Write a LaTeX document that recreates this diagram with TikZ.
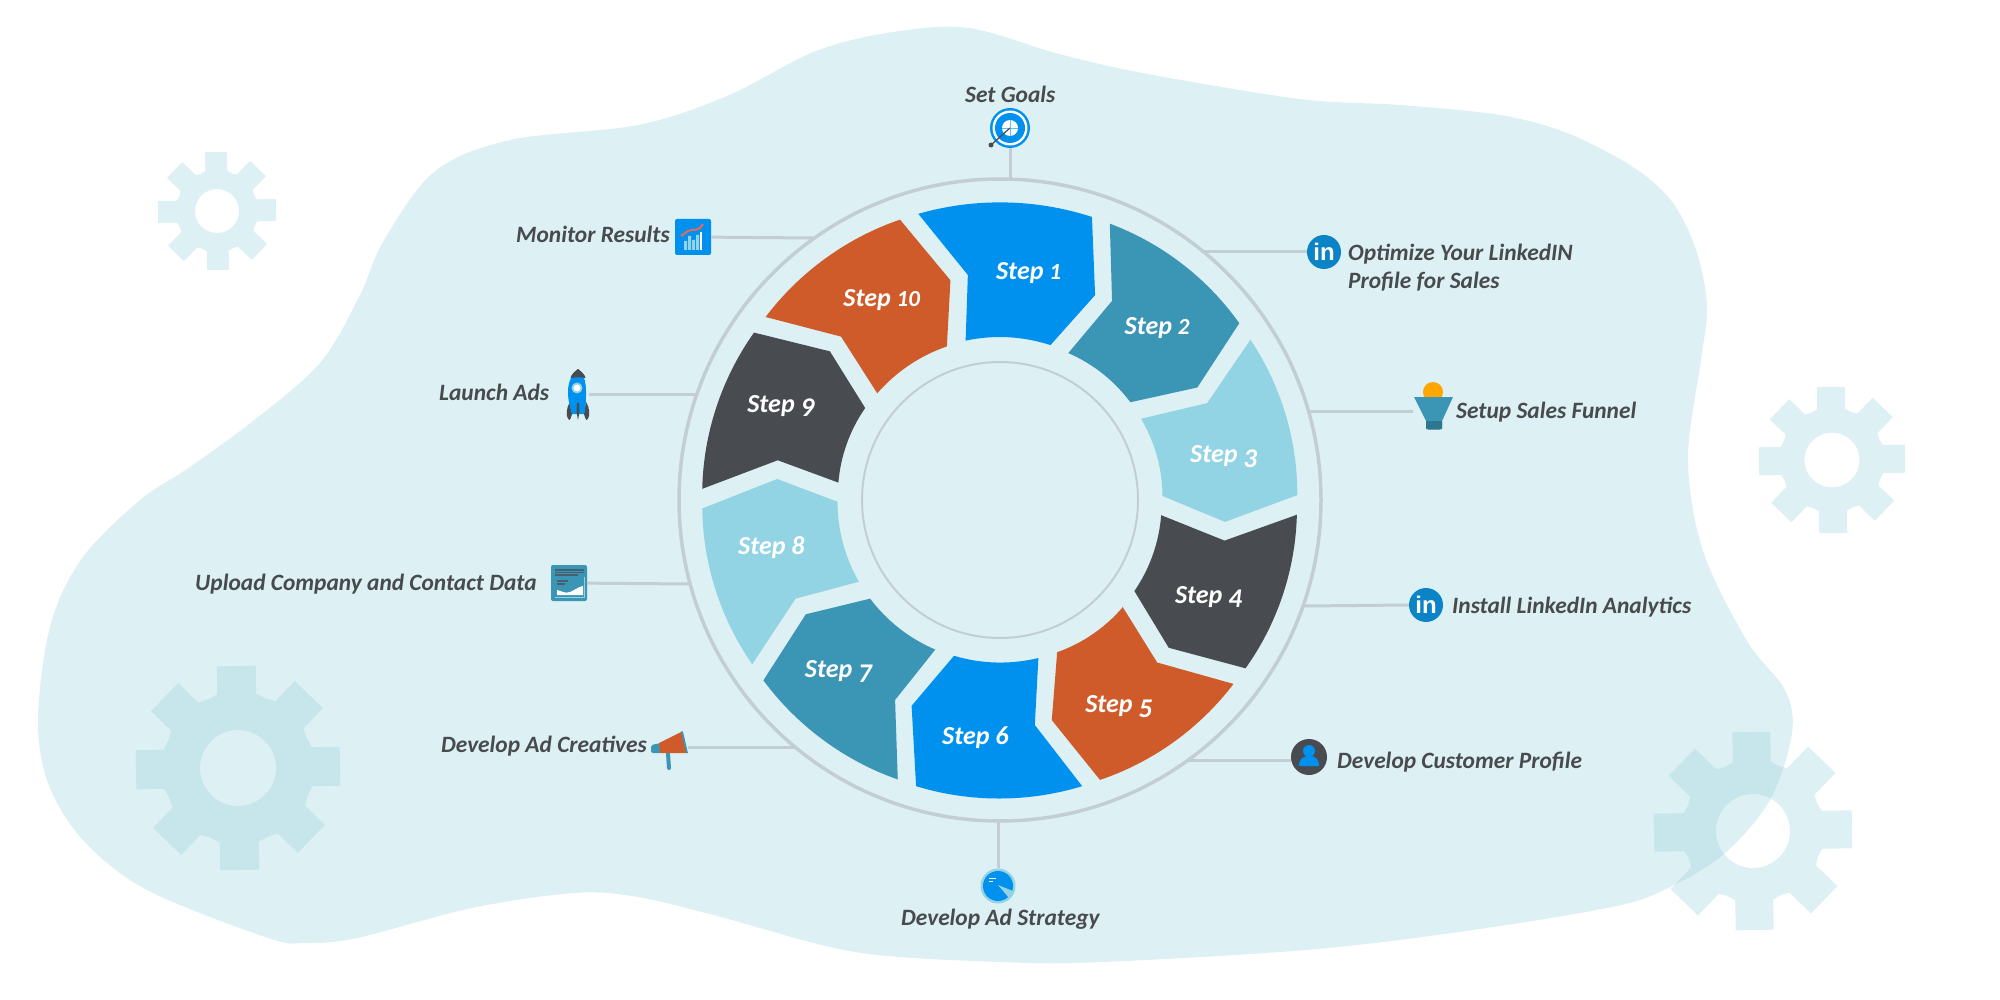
\documentclass[tikz,border=0pt]{standalone}
\usepackage{fontspec}
\setmainfont{Carlito}
\newfontfamily\iconfont{Liberation Sans}
\definecolor{blobc}{RGB}{221,240,244}
\definecolor{gearc}{RGB}{159,212,224}
\definecolor{ringc}{RGB}{195,206,212}
\definecolor{sblue}{RGB}{0,145,238}
\definecolor{steal}{RGB}{59,149,180}
\definecolor{slight}{RGB}{146,211,228}
\definecolor{sdark}{RGB}{72,76,80}
\definecolor{sorange}{RGB}{208,91,42}
\definecolor{txtc}{RGB}{72,75,78}
\definecolor{linkc}{RGB}{10,132,198}
\definecolor{chartred}{RGB}{232,104,90}
\tikzset{
 x=1pt,y=-1pt,
 oarc/.style={bend left=17,looseness=.87},
 iarc/.style={bend right=15,looseness=.87},
 conn/.style={draw=ringc,line width=3pt},
 lbl/.style={text=txtc,inner sep=0pt,font=\fontsize{23.4}{28}\selectfont\bfseries\itshape},
 steplbl/.style={text=white,inner sep=0pt,font=\fontsize{26}{30}\selectfont\bfseries\itshape},
 linkicon/.style={circle,fill=linkc,minimum size=34pt,inner sep=0pt,text=white,font=\fontsize{24}{24}\selectfont\iconfont\bfseries},
}
% old-style figures: x-height, descending and ascending digits
\newcommand\lowfig[1]{{\fontsize{23}{26}\selectfont #1}}
\newcommand\descfig[1]{\raisebox{-4.5pt}{\fontsize{27}{30}\selectfont #1}}
% #1 cx #2 cy #3 R #4 root #5 half tooth #6 hole #7 rotation
\newcommand\gearshape[7]{%
 \fill[gearc,fill opacity=.353,even odd rule]
  ({#1+#4*cos(#7)+#5*sin(#7)},{#2+#4*sin(#7)-#5*cos(#7)})
  \foreach \a in {0,45,...,315}{
   -- ({#1+#4*cos(\a+#7)+#5*sin(\a+#7)},{#2+#4*sin(\a+#7)-#5*cos(\a+#7)})
   -- ({#1+#3*cos(\a+#7)+#5*sin(\a+#7)},{#2+#3*sin(\a+#7)-#5*cos(\a+#7)})
   -- ({#1+#3*cos(\a+#7)-#5*sin(\a+#7)},{#2+#3*sin(\a+#7)+#5*cos(\a+#7)})
   -- ({#1+#4*cos(\a+#7)-#5*sin(\a+#7)},{#2+#4*sin(\a+#7)+#5*cos(\a+#7)})
   -- ({#1+#4*1.012*cos(\a+#7+22.5)},{#2+#4*1.012*sin(\a+#7+22.5)})
  } -- cycle
  (#1,#2) circle[radius=#6pt];}
\newcommand\stepshape[7]{\fill[#1] #2 to[oarc] #3 -- #4 -- #5 to[iarc] #6 -- #7 -- cycle;}
\begin{document}
\begin{tikzpicture}
\useasboundingbox (0,0) rectangle (2000,1000);
% background blob
\fill[blobc] plot[smooth cycle,tension=.55] coordinates {
 (38,717)(51,623)(83,557)(140,500)(187,469)(253,421)(320,363)(360,295)(383,242)(434,172)(510,140)(638,125)(727,96)(816,51)(893,32)(969,28)(1059,54)(1148,74)(1300,99)(1400,105)(1500,115)(1567,133)(1633,167)(1673,203)(1697,253)(1707,307)(1701,360)(1688,459)(1703,551)(1747,641)(1785,690)(1792,733)(1770,800)(1724,854)(1668,888)(1612,907)(1459,932)(1306,950)(1102,962)(1000,962)(855,952)(721,917)(638,897)(574,893)(472,908)(357,938)(306,943)(268,938)(147,890)(83,840)(48,783)};
% gears
\gearshape{1832}{460}{73}{51}{14}{27.5}{-1}
\gearshape{1753}{831}{99}{69}{19}{37}{-1}
\gearshape{217}{211}{59}{40}{11}{22}{-1}
\gearshape{238}{768}{102}{74}{19.5}{38}{-1}
% rings
\node[circle,draw=ringc,line width=3.5pt,minimum size=642pt,inner sep=0pt] (ring) at (1000,500) {};
\node[circle,draw=ringc,line width=2pt,minimum size=276pt,inner sep=0pt] (hub) at (1000,500) {};
% icon nodes
\node[circle,fill=sblue,minimum size=40pt,inner sep=0pt] (goal) at (1010,128) {};
\node[linkicon] (li1) at (1324,252) {in};
\node[inner sep=0pt,minimum width=39pt,minimum height=32pt] (fun) at (1433,413) {};
\node[linkicon] (li2) at (1426,605) {in};
\node[circle,fill=sdark,minimum size=36pt,inner sep=0pt] (cust) at (1309,757) {};
\node[circle,fill=slight,minimum size=35pt,inner sep=0pt] (strat) at (998,886) {};
\node[inner sep=0pt,minimum width=37pt,minimum height=39pt] (mega) at (669.5,750) {};
\node[rounded corners=2pt,fill=steal,minimum size=36pt,inner sep=0pt] (data) at (569,583) {};
\node[inner sep=0pt,minimum width=22pt,minimum height=51pt] (rock) at (578,394.5) {};
\node[rounded corners=2pt,fill=sblue,minimum size=36pt,inner sep=0pt] (chart) at (693,237) {};
% connector ends on the ring
\coordinate (e1) at (1010,179);
\coordinate (e2) at (1201,252);
\coordinate (e3) at (1307,411);
\coordinate (e4) at (1304,606);
\coordinate (e5) at (1188,760);
\coordinate (e6) at (998,821);
\coordinate (e7) at (795,747);
\coordinate (e8) at (690,584);
\coordinate (e9) at (697,394);
\coordinate (e10) at (813,238);
\draw[conn] (goal) -- (e1);
\draw[conn] (li1) -- (e2);
\draw[conn] (fun.west |- e3) -- (e3);
\draw[conn] (li2.west) -- (e4);
\draw[conn] (cust.west |- e5) -- (e5);
\draw[conn] (strat) -- (e6);
\draw[conn] (mega.east |- e7) -- (e7);
\draw[conn] (data) -- (e8);
\draw[conn] (rock.east |- e9) -- (e9);
\draw[conn] (chart) -- (e10);
% steps (coordinates taken from a zoomed view)
\begin{scope}[shift={(650,150)},scale=.44643]
\stepshape{sblue}{(601,143)}{(990,150)}{(997,325)}{(897,437)}{(707,427)}{(712,280)}
\stepshape{steal}{(1030,165)}{(1320,388)}{(1226,532)}{(1076,565)}{(937,455)}{(1035,338)}
\stepshape{slight}{(1345,425)}{(1450,773)}{(1288,833)}{(1148,775)}{(1100,602)}{(1248,567)}
\stepshape{sdark}{(1449,817)}{(1334,1161)}{(1162,1115)}{(1085,988)}{(1145,818)}{(1287,875)}
\stepshape{sorange}{(1307,1196)}{(1008,1411)}{(900,1277)}{(912,1125)}{(1059,1024)}{(1136,1148)}
\stepshape{sblue}{(968,1425)}{(596,1425)}{(586,1245)}{(681,1133)}{(870,1138)}{(862,1288)}
\stepshape{steal}{(555,1410)}{(254,1188)}{(349,1040)}{(493,1005)}{(639,1119)}{(549,1232)}
\stepshape{slight}{(229,1152)}{(117,803)}{(285,737)}{(420,788)}{(468,967)}{(326,1005)}
\stepshape{sdark}{(117,759)}{(233,409)}{(403,451)}{(482,578)}{(422,745)}{(286,695)}
\stepshape{sorange}{(259,374)}{(560,156)}{(673,292)}{(665,440)}{(509,545)}{(428,418)}
\node[steplbl,anchor=base] (s1) at (848,290) {Step \lowfig{1}};
\node[steplbl,anchor=base] (s2) at (1136,414) {Step \lowfig{2}};
\node[steplbl,anchor=base] (s3) at (1285,701) {Step \descfig{3}};
\node[steplbl,anchor=base] (s4) at (1251,1015) {Step \descfig{4}};
\node[steplbl,anchor=base] (s5) at (1050,1260) {Step \descfig{5}};
\node[steplbl,anchor=base] (s6) at (729,1332) {Step 6};
\node[steplbl,anchor=base] (s7) at (422,1182) {Step \descfig{7}};
\node[steplbl,anchor=base] (s8) at (272,906) {Step 8};
\node[steplbl,anchor=base] (s9) at (293,587) {Step \descfig{9}};
\node[steplbl,anchor=base] (s10) at (519,350) {Step \lowfig{10}};
\end{scope}
% target icon
\fill[white] (goal) circle[radius=17.5pt];
\fill[sblue] (goal) circle[radius=15pt];
\fill[white] (goal) circle[radius=8pt];
\draw[sblue!60,line width=.5pt] (1002,128) -- (1018,128) (1010,120) -- (1010,136);
\draw[sdark,line width=1.2pt] (goal.center) -- (991,145);
\fill[sdark] (991,145) circle[radius=2.5pt];
% funnel icon
\fill[orange!70!yellow] (1433,392) circle[radius=10pt];
\fill[steal] (1414,397) -- (1453,397) -- (1442,421) -- (1442,429) -- (1426,429) -- (1426,421) -- cycle;
\fill[steal!80!black] (1426,421) -- (1442,421) -- (1442,428) -- (1440,429.5) -- (1428,429.5) -- (1426,428) -- cycle;
% person icon
\fill[sblue] (1309,751) circle[radius=6pt];
\fill[sblue] (1299,766) .. controls (1299,758) and (1304,756) .. (1309,756) .. controls (1314,756) and (1319,758) .. (1319,766) -- cycle;
% strategy icon
\fill[sblue] (strat) circle[radius=15pt];
\fill[slight] (998,885) -- (1013,891) -- (1009,898) -- cycle;
\draw[white,line width=1pt] (989,878.5) -- (996,878.5) (989,881) -- (993,881);
% megaphone icon
\draw[steal,line width=4pt,line cap=round] (668,754) -- (669,768);
\fill[steal,rounded corners=2pt] (651,745) -- (661,743) -- (661,753) -- (651,753) -- cycle;
\fill[sorange] (659,743) -- (682,731.5) -- (687,753) -- (660,753) -- cycle;
\draw[steal,line width=1.8pt] (682,731.5) -- (687,753);
% data icon
\draw[sdark!70!steal,line width=1.2pt] (555,570) -- (584,570) (555,572.5) -- (584,572.5) (555,575) -- (578,575);
\draw[sdark!70!steal,line width=1.2pt] (557,581) -- (568,581) (557,584) -- (565,584);
\fill[white] (557,595) -- (557,590) .. controls (562,591) and (565,594) .. (570,592) .. controls (575,590) and (578,587) .. (583,586) -- (583,595) -- cycle;
\draw[slight,line width=.8pt] (555,597) -- (584,597) -- (584,577);
% rocket icon
\fill[sdark] (567,416) .. controls (566,408) and (569,404) .. (570,402) -- (572,414) .. controls (571,418) and (570,420) .. (569.5,420) .. controls (568.5,420) and (567.5,418) .. (567,416) -- cycle;
\fill[sdark] (589,416) .. controls (590,408) and (587,404) .. (586,402) -- (584,414) .. controls (585,418) and (586,420) .. (586.5,420) .. controls (587.5,420) and (588.5,418) .. (589,416) -- cycle;
\fill[sblue] (578,369) .. controls (572,375) and (568,381) .. (568,392) .. controls (568,400) and (570,408) .. (572,414) -- (584,414) .. controls (586,408) and (586,400) .. (586,392) .. controls (586,381) and (584,375) .. (578,369) -- cycle;
\fill[sdark] (578,369) .. controls (574,372) and (571,375) .. (570.5,378) .. controls (575,377) and (581,377) .. (585.5,378) .. controls (585,375) and (582,372) .. (578,369) -- cycle;
\fill[sdark] (577,403) -- (579,403) -- (579.5,412) -- (578,420) -- (576.5,412) -- cycle;
\fill[slight] (577,388) circle[radius=5.5pt];
\fill[white] (577,388) circle[radius=3.5pt];
% chart icon
\fill[slight] (684,241) rectangle (687,250) (688,236) rectangle (691,250) (692,240) rectangle (695,250) (696,235) rectangle (699,250);
\fill[white] (700,232) rectangle (702,250);
\draw[chartred,line width=2pt] (681,236) -- (688,231) .. controls (692,229) and (696,231) .. (700,228) -- (703,224);
% labels
\node[lbl,anchor=base west] (t1) at (965,103) {Set Goals};
\node[lbl,anchor=base west] (t2) at (1348,261) {Optimize Your LinkedIN};
\node[lbl,anchor=base west] (t2b) at (1348,289) {Profile for Sales};
\node[lbl,anchor=base west] (t3) at (1456,418) {Setup Sales Funnel};
\node[lbl,anchor=base west] (t4) at (1452,613) {Install LinkedIn Analytics};
\node[lbl,anchor=base west] (t5) at (1337,768) {Develop Customer Profile};
\node[lbl,anchor=base west] (t6) at (901,925) {Develop Ad Strategy};
\node[lbl,anchor=base west] (t7) at (441,752) {Develop Ad Creatives};
\node[lbl,anchor=base west] (t8) at (195,590) {Upload Company and Contact Data};
\node[lbl,anchor=base west] (t9) at (439,400) {Launch Ads};
\node[lbl,anchor=base west] (t10) at (516,243) {Monitor Results};
\end{tikzpicture}
\end{document}
